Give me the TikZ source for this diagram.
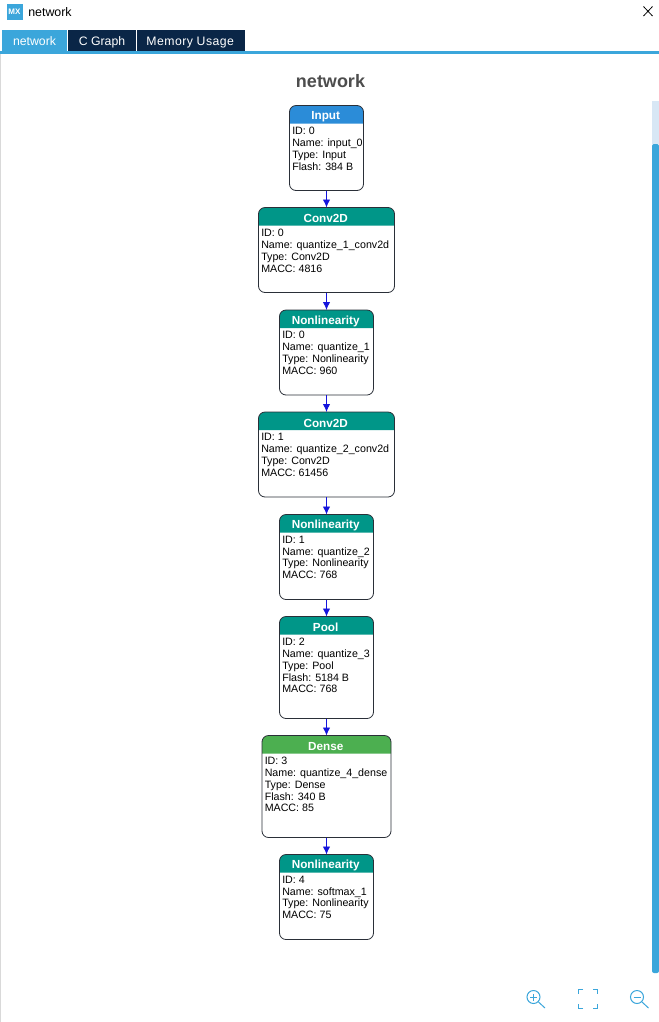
\documentclass[tikz,border=0pt]{standalone}
\usepackage{fontspec}
\setmainfont{Liberation Sans}
\usetikzlibrary{arrows.meta}
\definecolor{teal}{HTML}{009688}
\definecolor{inblue}{HTML}{2B8CD8}
\definecolor{dgreen}{HTML}{4CAF50}
\definecolor{accent}{HTML}{3BA6DB}
\definecolor{navy}{HTML}{0A2647}
\definecolor{track}{HTML}{D8E7F5}
\definecolor{outl}{HTML}{2A2F38}
\definecolor{ttl}{HTML}{4D4D4D}
\tikzset{
  x=0.75pt,y=-0.75pt,
  outline/.style={draw=outl,line width=0.6pt,rounded corners=6.5*0.75pt,inner sep=0pt,outer sep=0pt},
  hdrtext/.style={text=white,font=\fontsize{8.8pt}{11pt}\selectfont\bfseries,inner sep=0pt},
  body/.style={anchor=north west,align=left,inner sep=0pt,text=black,font=\fontsize{8pt}{8.95pt}\selectfont},
  link/.style={draw={rgb,255:red,20;green,20;blue,220},line width=0.6pt,-{Latex[length=6pt,width=5.5pt]}},
  tab/.style={anchor=north west,inner sep=0pt,outer sep=0pt,text=white,minimum height=15.75pt,text depth=0pt,font=\fontsize{9.2pt}{11pt}\selectfont},
  icon/.style={draw=accent,line width=0.75pt}
}
\newcommand{\netbox}[8]{%
  \fill[#6] ({#2-#4/2},{#3+18}) [rounded corners=6.5*0.75pt] -- ({#2-#4/2},#3) -- ({#2+#4/2},#3) [sharp corners] -- ({#2+#4/2},{#3+18}) -- cycle;
  \node[outline,anchor=north,minimum width=#4*0.75pt,minimum height=#5*0.75pt] (#1) at (#2,#3) {};
  \node[hdrtext] (#1h) at ({#2-0.8},{#3+11}) {#7};
  \node[body] (#1t) at ({#2-#4/2+2.5},{#3+21}) {#8};
}
\begin{document}
\begin{tikzpicture}
\useasboundingbox (0,0) rectangle (659,1022);
\fill[white] (0,0) rectangle (659,1022);
% window chrome
\draw[black!15,line width=0.6pt] (0.5,54) -- (0.5,1022);
\node[fill=accent,text=white,font=\fontsize{6pt}{7pt}\selectfont\bfseries,inner sep=0pt,minimum width=12pt,minimum height=12pt] (logo) at (14.5,11.5) {MX};
\node[anchor=west,inner sep=0pt,font=\fontsize{9.3pt}{11pt}\selectfont] (wt) at (28,12) {network};
\draw[line width=0.6pt] (643.5,6.5) -- (652.5,16);
\draw[line width=0.6pt] (652.5,6.5) -- (643.5,16);
\fill[accent] (0,51) rectangle (659,54);
\node[tab,fill=accent,minimum width=48.75pt] (t1) at (2,30) {\raisebox{-0.7pt}{network}};
\node[tab,fill=navy,minimum width=51pt] (t2) at (68,30) {\raisebox{-0.7pt}{C Graph}};
\node[tab,fill=navy,minimum width=81pt] (t3) at (137,30) {\hspace{-1.2pt}\raisebox{-0.7pt}{\addfontfeature{LetterSpace=3.5}Memory Usage}};
% scrollbar
\fill[track] (652,101) rectangle (659,144);
\fill[accent,rounded corners=1.5pt] (652,144) rectangle (659,973);
% title
\node[font=\fontsize{13.5pt}{16pt}\selectfont\bfseries,text=ttl,inner sep=0pt] (title) at (330.5,81) {network};
% boxes
\netbox{a}{326.5}{105.5}{74}{85}{inblue}{Input}{ID: 0\\Name: input\_0\\Type: Input\\Flash: 384 B}
\netbox{b}{326.5}{207.5}{136}{85}{teal}{Conv2D}{ID: 0\\Name: quantize\_1\_conv2d\\Type: Conv2D\\MACC: 4816}
\netbox{c}{326.5}{310}{94}{85}{teal}{Nonlinearity}{ID: 0\\Name: quantize\_1\\Type: Nonlinearity\\MACC: 960}
\netbox{d}{326.5}{412}{136}{85}{teal}{Conv2D}{ID: 1\\Name: quantize\_2\_conv2d\\Type: Conv2D\\MACC: 61456}
\netbox{e}{326.5}{514.5}{94}{85}{teal}{Nonlinearity}{ID: 1\\Name: quantize\_2\\Type: Nonlinearity\\MACC: 768}
\netbox{f}{326.5}{616.5}{94}{102}{teal}{Pool}{ID: 2\\Name: quantize\_3\\Type: Pool\\Flash: 5184 B\\MACC: 768}
\netbox{g}{326.5}{735.5}{129}{102}{dgreen}{Dense}{ID: 3\\Name: quantize\_4\_dense\\Type: Dense\\Flash: 340 B\\MACC: 85}
\netbox{h}{326.5}{854.5}{94}{85}{teal}{Nonlinearity}{ID: 4\\Name: softmax\_1\\Type: Nonlinearity\\MACC: 75}
% connectors
\foreach \p/\q in {a/b,b/c,c/d,d/e,e/f,f/g,g/h}{\draw[link] (\p.south) -- (\q.north);}
% zoom icons
\coordinate (zi) at (533.5,997);
\coordinate (zo) at (637,997);
\draw[icon] (zi) circle (6.5*0.75pt);
\draw[icon] (538.5,1002) -- (545,1008);
\draw[icon] (530,997) -- (537,997);
\draw[icon] (533.5,993.5) -- (533.5,1000.5);
\draw[icon] (zo) circle (6.5*0.75pt);
\draw[icon] (642,1002) -- (648.5,1008);
\draw[icon] (633.5,997) -- (640.5,997);
\draw[icon] (583,989.5) -- (578.5,989.5) -- (578.5,994);
\draw[icon] (593,989.5) -- (597.5,989.5) -- (597.5,994);
\draw[icon] (583,1008.5) -- (578.5,1008.5) -- (578.5,1004);
\draw[icon] (593,1008.5) -- (597.5,1008.5) -- (597.5,1004);
\end{tikzpicture}
\end{document}
